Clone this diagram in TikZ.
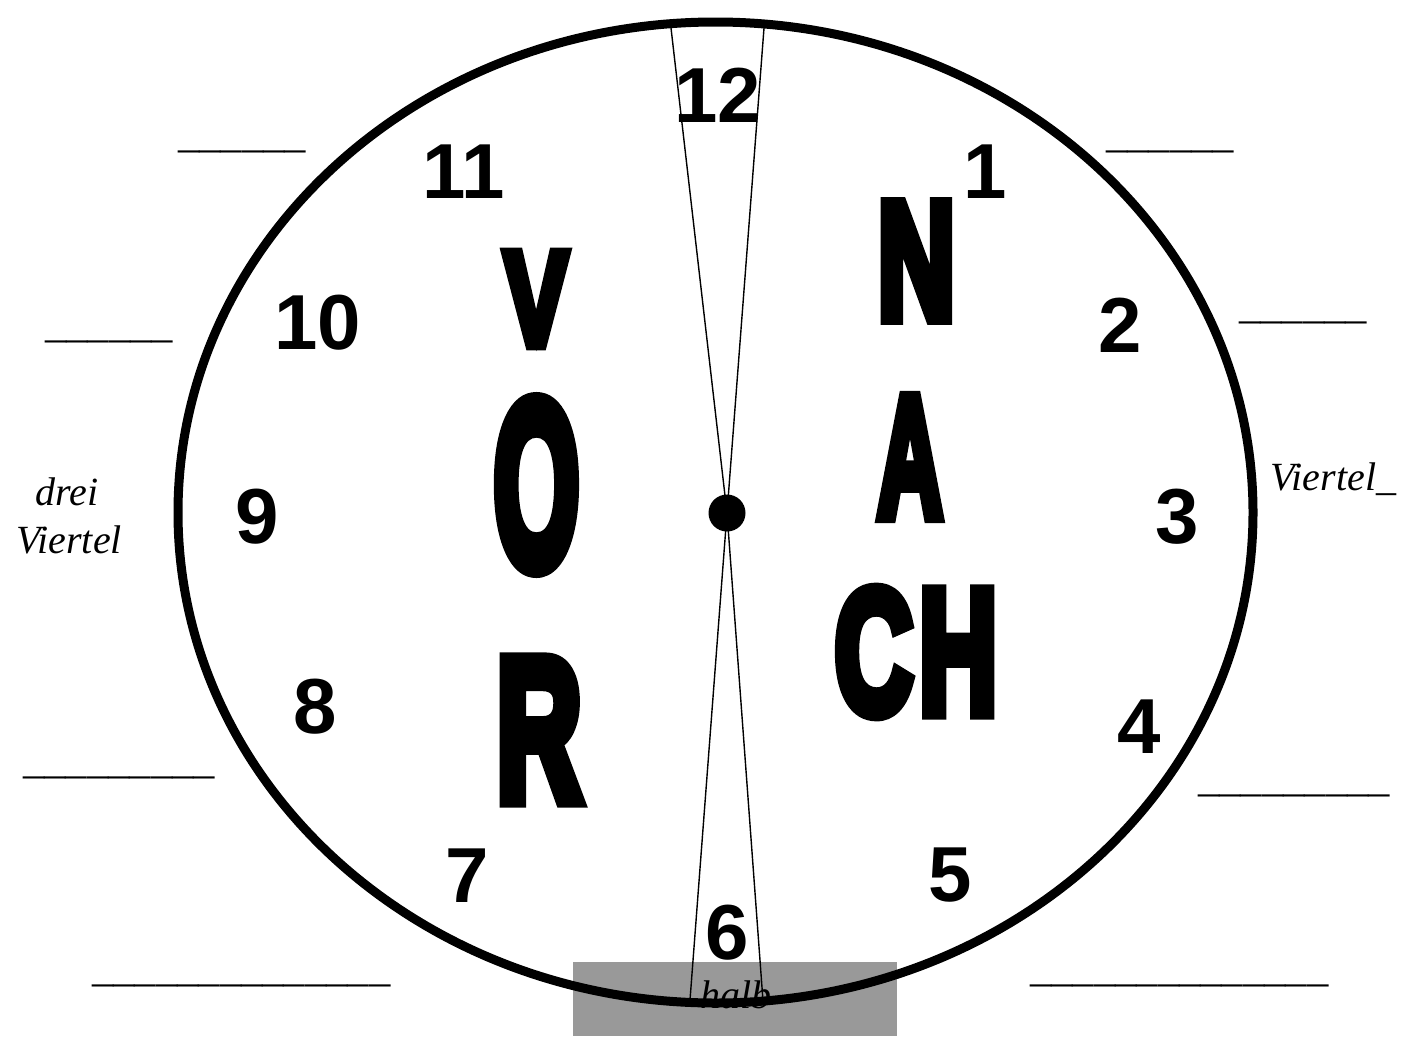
\documentclass[tikz,border=0pt]{standalone}
\usepackage{fontspec}
\setmainfont{Liberation Serif}
\newfontfamily\numfont{Liberation Sans}
\newfontfamily\bigfont{Liberation Sans}[FakeBold=8]
\definecolor{boxgray}{HTML}{999999}
\tikzset{
  num/.style={inner sep=0pt, anchor=center, font=\numfont\bfseries\fontsize{78}{80}\selectfont},
  blank/.style={inner sep=0pt, anchor=base west, font=\fontsize{42.6}{44}\selectfont},
  word/.style={inner sep=0pt, font=\itshape\fontsize{40}{48}\selectfont},
  big/.style={inner sep=0pt, anchor=center, font=\bigfont\bfseries\fontsize{100}{100}\selectfont},
  hand/.style={line width=1.4pt},
}
\begin{document}
\begin{tikzpicture}[x=1pt,y=-1pt]
\useasboundingbox (0,0) rectangle (1405,1036);
\fill[boxgray] (573,962) rectangle (897,1036);
\node[word, anchor=base west] (halb) at (700,1008) {halb};
% clock face
\draw[line width=9pt] (715.5,512.5) ellipse [x radius=537.5pt, y radius=490.5pt];
% centre dot
\node[circle, fill=black, inner sep=0pt, minimum size=37pt] (c) at (727,513) {};
\coordinate (tl) at (671,28);
\coordinate (tr) at (764,28);
\coordinate (bl) at (690,1000);
\coordinate (br) at (763,1001);
\draw[hand] (tl) -- (c.center) -- (br);
\draw[hand] (tr) -- (c.center) -- (bl);
% numbers
\node[num] (n12) at (718,95) {12};
\node[num] (n1) at (985,172) {1};
\node[num] (n2) at (1120,325) {2};
\node[num] (n3) at (1177,517) {3};
\node[num] (n4) at (1139,727) {4};
\node[num] (n5) at (950,875) {5};
\node[num] (n6) at (727,933) {6};
\node[num] (n7) at (467,876) {7};
\node[num] (n8) at (315,707) {8};
\node[num] (n9) at (257,517) {9};
\node[num] (n10) at (318,323) {10};
\node[num] (n11) at (464,172) {11};
% big letters
\node[big] (V) at (536,299) {\scalebox{0.95}[1.34]{V}};
\node[big] (O) at (536.5,485) {\scalebox{1.1}[2.36]{O}};
\node[big] (R) at (539,730) {\scalebox{1.18}[2.02]{R}};
\node[big] (N) at (916.5,261) {\scalebox{1.07}[1.66]{N}};
\node[big] (A) at (910,457) {\scalebox{0.9}[1.72]{A}};
\node[big] (CH) at (916,652) {\scalebox{1.08}[1.76]{C\kern6pt H}};
% side words
\node[word, anchor=base] (drei) at (67,505) {drei};
\node[word, anchor=base] (viertelL) at (69,553) {Viertel};
\node[word, anchor=base west] (viertelR) at (1270,490) {Viertel\_};
% blanks
\node[blank] (b1) at (178,147) {\_\_\_\_\_\_};
\node[blank] (b2) at (1106,147) {\_\_\_\_\_\_};
\node[blank] (b3) at (45,337) {\_\_\_\_\_\_};
\node[blank] (b4) at (1239,318) {\_\_\_\_\_\_};
\node[blank] (b5) at (23,773) {\_\_\_\_\_\_\_\_\_};
\node[blank] (b6) at (1198,791) {\_\_\_\_\_\_\_\_\_};
\node[blank] (b7) at (92,981) {\_\_\_\_\_\_\_\_\_\_\_\_\_\_};
\node[blank] (b8) at (1030,981) {\_\_\_\_\_\_\_\_\_\_\_\_\_\_};
\end{tikzpicture}
\end{document}
